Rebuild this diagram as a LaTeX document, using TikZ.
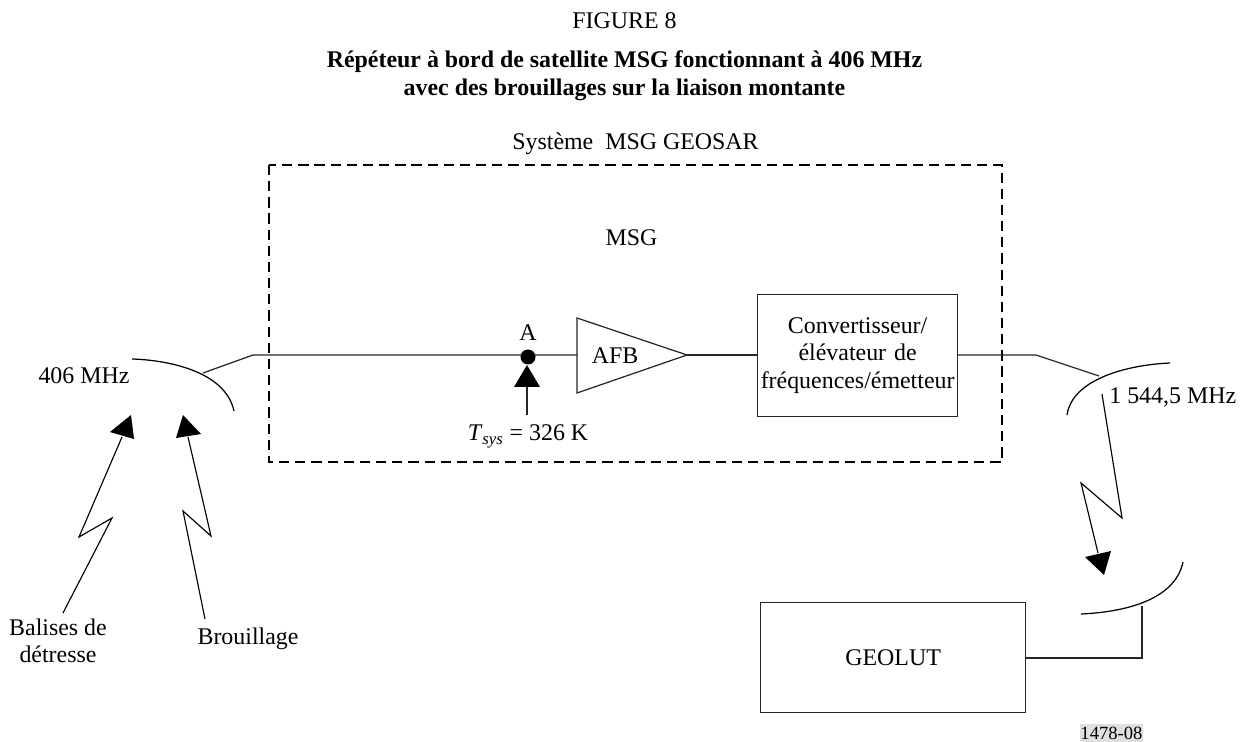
\documentclass[tikz,border=0pt]{standalone}
\usepackage{fontspec}
\setmainfont{Liberation Serif}
\usepackage{tikz}
\tikzset{
  lbl/.style={inner sep=0pt, font=\fontsize{13.6}{15.6}\selectfont, align=center},
  wire/.style={line width=0.7pt, black!85},
  dish/.style={line width=0.7pt},
  bolt/.style={line width=0.65pt},
}
\begin{document}
\begin{tikzpicture}[x=0.02cm, y=-0.02cm]
        \useasboundingbox (0,0) rectangle (1243,742);
        % titres
        \node[lbl] (fig) at (624.5,21) {FIGURE 8};
        \node[lbl, font=\fontsize{13.6}{15.9}\bfseries\selectfont] (title) at (624.5,76) {Répéteur à bord de satellite MSG fonctionnant à 406 MHz\\avec des brouillages sur la liaison montante};
        \node[lbl] (sys) at (635.5,144) {Système\ \ MSG GEOSAR};
        % cadre
        \draw[line width=1.35pt, dash pattern=on 5.8pt off 3.4pt] (269,165) rectangle (1002,462);
        \node[lbl] (msg) at (631.5,238) {MSG};
        % chaîne
        \coordinate (F1) at (203,373);
        \coordinate (K1) at (253,355);
        \coordinate (In) at (577,355);
        \coordinate (Out) at (687,355);
        \node[draw=black!85, line width=0.7pt, inner sep=0pt, anchor=north west, text width=200*0.02cm, minimum height=122*0.02cm, align=center, font=\fontsize{13.6}{15.9}\selectfont] (conv) at (757,294) {Convertisseur/\\élévateur de\\fréquences/émetteur};
        \coordinate (K2) at (1036,355);
        \coordinate (F2) at (1099,376);
        \draw[wire] (F1) -- (K1) -- (In);
        \draw[wire] (577,318) -- (Out) -- (577,393) -- cycle;
        \draw[wire] (Out) -- (conv.west |- Out);
        \draw[wire] (conv.east |- Out) -- (K2) -- (F2);
        \node[lbl] (afb) at (615,356) {AFB};
        % point A
        \fill (528,357) circle (7.5);
        \node[lbl] (ptA) at (528,333) {A};
        \fill (527,365) -- (540,387) -- (514,387) -- cycle;
        \draw[wire] (527,387) -- (527,415);
        \node[lbl] (tsys) at (528,436) {\textit{T}\textsubscript{\textit{sys}} = 326 K};
        % antennes
        \draw[dish] (132,359) .. controls (165,360) and (225,370) .. (234,411);
        \draw[dish] (1067,415) .. controls (1072,380) and (1125,365) .. (1170,363);
        \draw[dish] (1081,614) .. controls (1125,612) and (1175,600) .. (1183,562);
        \node[lbl] (up) at (84,376) {406 MHz};
        \node[lbl, anchor=west] (down) at (1109,397) {1 544,5 MHz};
        % balises
        \draw[bolt] (63,613) -- (112,518) -- (79,537) -- (122,437);
        \fill (131,415) -- (134,439) -- (110,432) -- cycle;
        \draw[bolt] (205,619) -- (183,511) -- (211,536) -- (188,437);
        \fill (183,415) -- (201,434) -- (176,438) -- cycle;
        \node[lbl, font=\fontsize{13.6}{15.4}\selectfont] (bal) at (58,641) {Balises de\\détresse};
        \node[lbl] (bro) at (248,639) {Brouillage};
        % liaison descendante
        \draw[bolt] (1102,394) -- (1122,518) -- (1081,483) -- (1098,553);
        \fill (1104,575) -- (1085,557) -- (1111,551) -- cycle;
        % GEOLUT
        \node[draw=black!85, line width=0.7pt, inner sep=0pt, anchor=north west, minimum width=265*0.02cm, minimum height=110*0.02cm, font=\fontsize{13.6}{16}\selectfont] (geolut) at (760,602) {GEOLUT};
        \coordinate (F3) at (1142,606);
        \draw[wire] (F3) -- (1142,658) -- (geolut.east |- 0,658);
        \node[fill=black!12, inner sep=0pt, minimum width=63*0.02cm, minimum height=18*0.02cm, font=\fontsize{10.6}{12}\selectfont] (ref) at (1111.5,733) {1478-08};
\end{tikzpicture}
\end{document}
